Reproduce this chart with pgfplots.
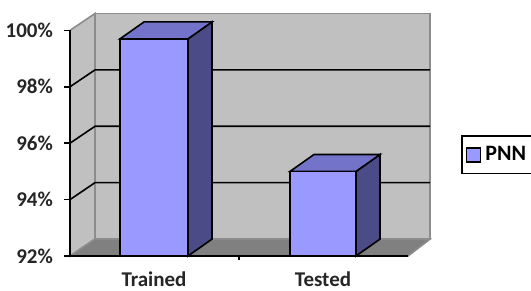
\documentclass[border=0pt]{standalone}
\usepackage{pgfplots}
\pgfplotsset{compat=1.18}
\usepackage{fontspec}
\setmainfont{Carlito}
\definecolor{barfront}{HTML}{9999FF}
\definecolor{bartop}{HTML}{7373C9}
\definecolor{barside}{HTML}{4B4B88}
\definecolor{wall}{HTML}{C0C0C0}
\definecolor{floorc}{HTML}{808080}
\definecolor{wallline}{HTML}{8C8C8C}
\begin{document}
\begin{tikzpicture}
\begin{axis}[
  x=0.5pt, y=14.1pt,
  xmin=70, xmax=408, ymin=92, ymax=100,
  clip=false,
  axis on top,
  axis y line*=left, axis x line*=bottom,
  axis line style={line width=0.8pt, black, -},
  ytick={92,94,96,98,100},
  yticklabels={92\%,94\%,96\%,98\%,100\%},
  xtick={154,323}, xticklabels={Trained,Tested},
  x tick style={draw=none},
  y tick style={line width=0.8pt, black},
  tick align=outside, major tick length=3pt,
  tick label style={font=\bfseries\fontsize{10.5}{12}\selectfont, text=black!85},
  yticklabel style={xshift=-2pt},
  xticklabel style={yshift=-1.5pt},
  /pgf/number format/assume math mode=true,
  legend image code/.code={\draw[#1] (0pt,-3.5pt) rectangle (7pt,3.5pt);},
  legend style={at={(axis description cs:1.157,0.535)}, anchor=north west,
    draw=black, line width=0.8pt, font=\bfseries\fontsize{11}{12}\selectfont,
    inner xsep=2pt, inner ysep=3pt},
  legend cell align=left,
]
\addlegendimage{fill=barfront, draw=black, line width=0.8pt}
\addlegendentry{PNN\hspace{8pt}}
% left wall
\addplot[fill=wall, draw=wallline, line width=0.8pt] coordinates {(70,92) (95,92.6) (95,100.6) (70,100)} -- cycle;
% back wall
\addplot[fill=wall, draw=wallline, line width=0.8pt] coordinates {(95,92.6) (430,92.6) (430,100.6) (95,100.6)} -- cycle;
% gridlines
\addplot[black, line width=0.8pt] coordinates {(70,94) (95,94.6) (430,94.6)};
\addplot[black, line width=0.8pt] coordinates {(70,96) (95,96.6) (430,96.6)};
\addplot[black, line width=0.8pt] coordinates {(70,98) (95,98.6) (430,98.6)};
% floor
\addplot[fill=floorc, draw=wallline, line width=0.8pt] coordinates {(70,92) (408,92) (430,92.6) (95,92.6)} -- cycle;
% category separator tick
\addplot[black, line width=0.8pt] coordinates {(239,92) (239,91.85)};
% Trained = 99.7
\addplot[fill=barside, draw=black, line width=0.8pt] coordinates {(188,92) (212,92.6) (212,100.3) (188,99.7)} -- cycle;
\addplot[fill=bartop, draw=black, line width=0.8pt] coordinates {(120,99.7) (188,99.7) (212,100.3) (144,100.3)} -- cycle;
\addplot[fill=barfront, draw=black, line width=0.8pt] coordinates {(120,92) (188,92) (188,99.7) (120,99.7)} -- cycle;
% Tested = 95.0
\addplot[fill=barside, draw=black, line width=0.8pt] coordinates {(356,92) (380,92.6) (380,95.6) (356,95.0)} -- cycle;
\addplot[fill=bartop, draw=black, line width=0.8pt] coordinates {(290,95.0) (356,95.0) (380,95.6) (314,95.6)} -- cycle;
\addplot[fill=barfront, draw=black, line width=0.8pt] coordinates {(290,92) (356,92) (356,95.0) (290,95.0)} -- cycle;
\coordinate (bbA) at (axis cs:0,90.794);
\coordinate (bbB) at (axis cs:531,101.078);
\end{axis}
\pgfresetboundingbox
\path[use as bounding box] (bbA) rectangle (bbB);
\end{tikzpicture}
\end{document}
